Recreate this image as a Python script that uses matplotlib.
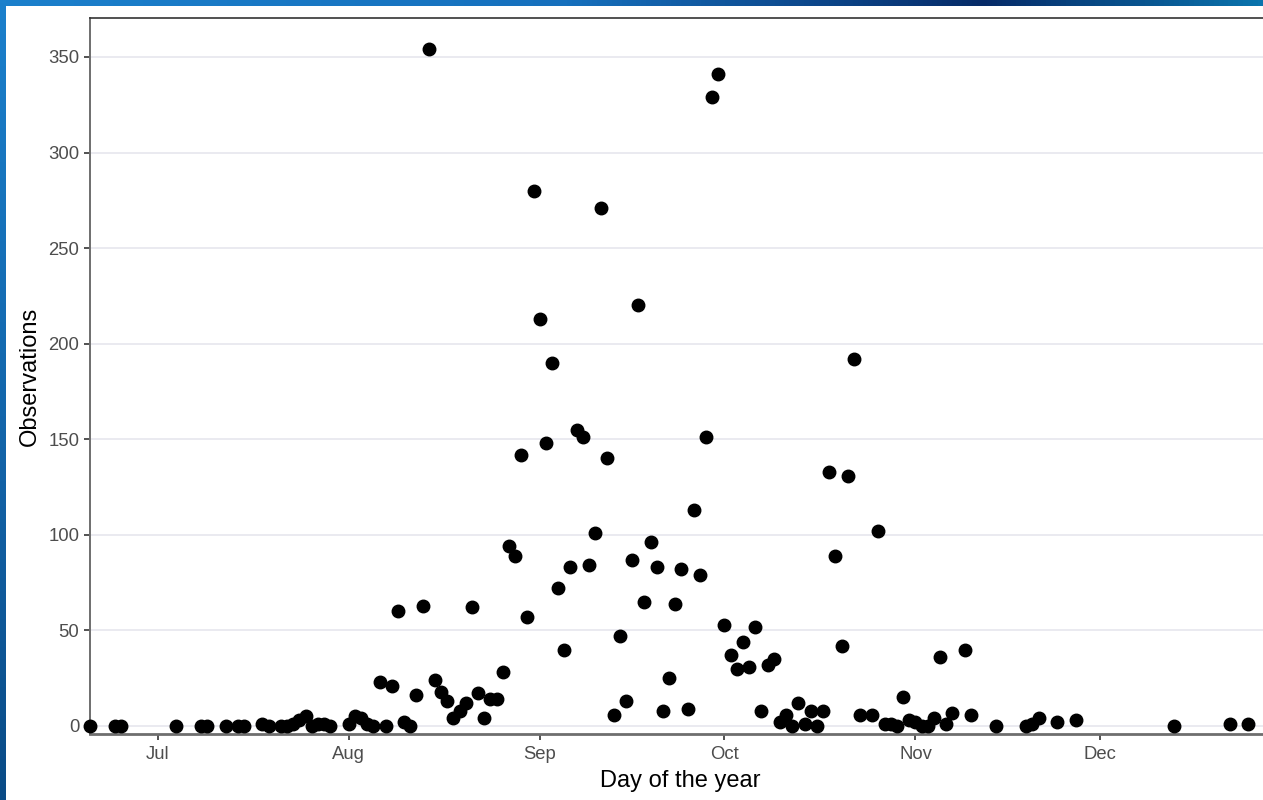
import numpy as np
import matplotlib
matplotlib.use("Agg")
import matplotlib.pyplot as plt
import matplotlib.dates as mdates
from matplotlib.colors import LinearSegmentedColormap

year = 2021
days = ["06-20", "06-24", "06-25", "07-04", "07-08", "07-09", "07-12", "07-14",
        "07-15", "07-18", "07-19", "07-21", "07-22", "07-23", "07-24", "07-25",
        "07-26", "07-27", "07-28", "07-29", "08-01", "08-02", "08-03", "08-04",
        "08-05", "08-06", "08-07", "08-08", "08-09", "08-10", "08-11", "08-12",
        "08-13", "08-14", "08-15", "08-16", "08-17", "08-18", "08-19", "08-20",
        "08-21", "08-22", "08-23", "08-24", "08-25", "08-26", "08-27", "08-28",
        "08-29", "08-30", "08-31", "09-01", "09-02", "09-03", "09-04", "09-05",
        "09-06", "09-07", "09-08", "09-09", "09-10", "09-11", "09-12", "09-13",
        "09-14", "09-15", "09-16", "09-17", "09-18", "09-19", "09-20", "09-21",
        "09-22", "09-23", "09-24", "09-25", "09-26", "09-27", "09-28", "09-29",
        "09-30", "10-01", "10-02", "10-03", "10-04", "10-05", "10-06", "10-07",
        "10-08", "10-09", "10-10", "10-11", "10-12", "10-13", "10-14", "10-15",
        "10-16", "10-17", "10-18", "10-19", "10-20", "10-21", "10-22", "10-23",
        "10-25", "10-26", "10-27", "10-28", "10-29", "10-30", "10-31", "11-01",
        "11-02", "11-03", "11-04", "11-05", "11-06", "11-07", "11-09", "11-10",
        "11-14", "11-19", "11-20", "11-21", "11-24", "11-27", "12-13", "12-22",
        "12-25"]
observations = [0, 0, 0, 0, 0, 0, 0, 0,
                0, 1, 0, 0, 0, 1, 3, 5,
                0, 1, 1, 0, 1, 5, 4, 1,
                0, 23, 0, 21, 60, 2, 0, 16,
                63, 354, 24, 18, 13, 4, 8, 12,
                62, 17, 4, 14, 14, 28, 94, 89,
                142, 57, 280, 213, 148, 190, 72, 40,
                83, 155, 151, 84, 101, 271, 140, 6,
                47, 13, 87, 220, 65, 96, 83, 8,
                25, 64, 82, 9, 113, 79, 151, 329,
                341, 53, 37, 30, 44, 31, 52, 8,
                32, 35, 2, 6, 0, 12, 1, 8,
                0, 8, 133, 89, 42, 131, 192, 6,
                6, 102, 1, 1, 0, 15, 3, 2,
                0, 0, 4, 36, 1, 7, 40, 6,
                0, 0, 1, 4, 2, 3, 0, 1,
                1]

dates = np.array([f"{year}-{d}" for d in days], dtype="datetime64[D]")

plt.rcParams['font.family'] = ['Liberation Sans', 'DejaVu Sans']

W, H = 1263, 800
fig = plt.figure(figsize=(W / 100, H / 100), dpi=100)
fig.patch.set_facecolor("white")

# blue slide frame (top and left strips)
top_cmap = LinearSegmentedColormap.from_list(
    "top", [(0, "#1b80cc"), (0.45, "#1670bd"), (0.78, "#062b68"), (1, "#0a74ad")])
left_cmap = LinearSegmentedColormap.from_list(
    "left", [(0, "#1b80cc"), (0.6, "#1262a6"), (1, "#0a4b86")])
grad = np.linspace(0, 1, 256)
tax = fig.add_axes([0, 1 - 6 / H, 1, 6 / H])
tax.imshow(grad[None, :], aspect="auto", cmap=top_cmap)
tax.axis("off")
lax = fig.add_axes([0, 0, 6 / W, 1])
lax.imshow(grad[:, None], aspect="auto", cmap=left_cmap)
lax.axis("off")

# main panel
left_px, right_px, top_px, bottom_px = 90, 1270, 18, 734
ax = fig.add_axes([left_px / W, (H - bottom_px) / H,
                   (right_px - left_px) / W, (bottom_px - top_px) / H])

ax.plot(dates, observations, "o", color="black", markersize=9.0,
        clip_on=False, zorder=3)

x0 = mdates.date2num(np.datetime64(f"{year}-06-20"))
ax.set_xlim(x0, x0 + (right_px - left_px) / 6.16)
ax.set_ylim(-4.2, 370.4)
ax.set_yticks(np.arange(0, 351, 50))
ax.xaxis.set_major_locator(mdates.MonthLocator())
ax.xaxis.set_major_formatter(mdates.DateFormatter("%b"))

ax.grid(axis="y", color="#e6e6ee", linewidth=1.2, zorder=0)
ax.grid(axis="x", visible=False)
ax.set_axisbelow(True)

ax.spines["right"].set_visible(False)
ax.spines["top"].set_color("#333333")
ax.spines["top"].set_linewidth(1.2)
ax.spines["left"].set_color("#6e6e6e")
ax.spines["left"].set_linewidth(1.4)
ax.spines["bottom"].set_color("#6e6e6e")
ax.spines["bottom"].set_linewidth(2.0)

ax.tick_params(axis="both", direction="out", length=4.3, width=1.2,
               color="#333333", labelsize=13.3, labelcolor="#4d4d4d", pad=3.5)
ax.tick_params(axis="x", pad=4.5)

ax.set_xlabel("Day of the year", fontsize=17, color="black", labelpad=5)
ax.set_ylabel("Observations", fontsize=17, color="black", labelpad=5)

fig.savefig("out.png", dpi=100)
